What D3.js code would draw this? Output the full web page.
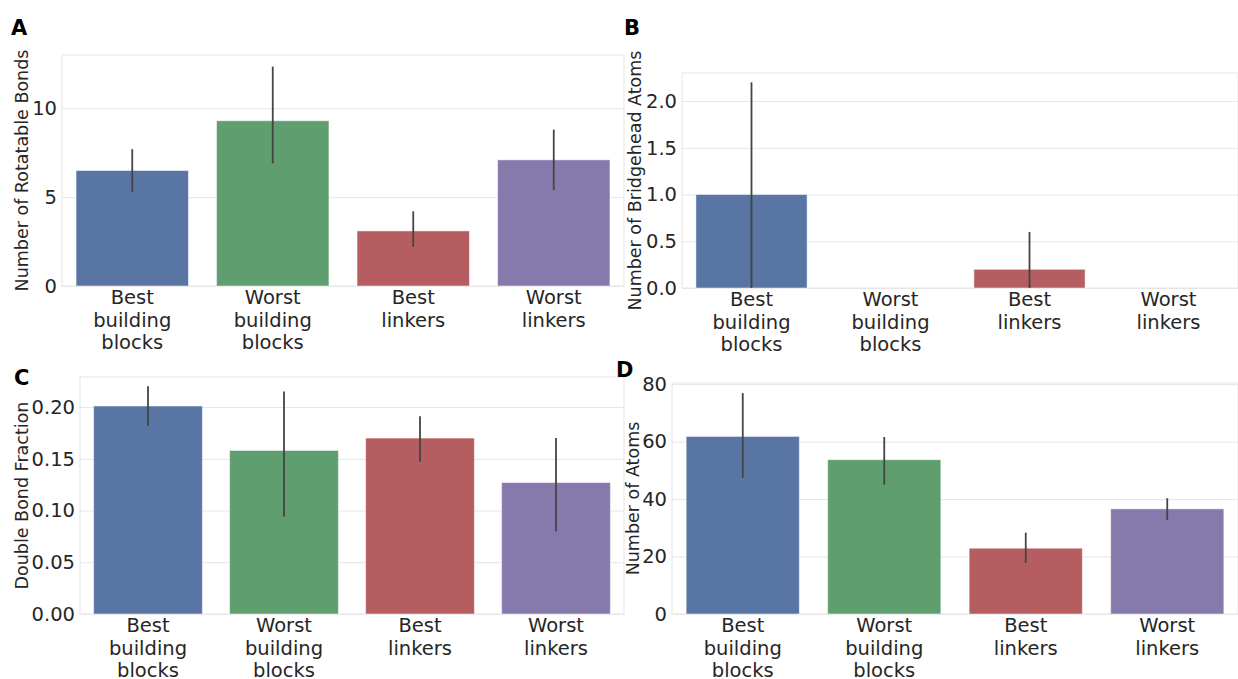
<!DOCTYPE html>
<html>
<head>
<meta charset="utf-8">
<script src="https://cdn.jsdelivr.net/npm/d3@7"></script>
<style>
  body { margin: 0; background: #fff; }
  svg { font-family: "DejaVu Sans", sans-serif; }
</style>
</head>
<body>
<svg id="chart" width="1238" height="679"></svg>
<script>
/* data */
const categories = ["Best building blocks", "Worst building blocks", "Best linkers", "Worst linkers"];
const categoryLines = [["Best", "building", "blocks"], ["Worst", "building", "blocks"], ["Best", "linkers"], ["Worst", "linkers"]];
const colors = ["#5975a4", "#5f9e6e", "#b55d60", "#857aab"];

const rotatableMean = [6.5, 9.3, 3.1, 7.1];
const rotatableLow = [5.3, 6.9, 2.2, 5.4];
const rotatableHigh = [7.7, 12.35, 4.2, 8.8];
const rotatableTicks = [0, 5, 10];

const bridgeheadMean = [1.0, 0, 0.2, 0];
const bridgeheadLow = [0, null, 0, null];
const bridgeheadHigh = [2.2, null, 0.6, null];
const bridgeheadTicks = [0, 0.5, 1.0, 1.5, 2.0];

const doubleMean = [0.201, 0.158, 0.170, 0.127];
const doubleLow = [0.182, 0.094, 0.147, 0.080];
const doubleHigh = [0.220, 0.215, 0.191, 0.170];
const doubleTicks = [0, 0.05, 0.10, 0.15, 0.20];

const atomsMean = [61.8, 53.7, 22.9, 36.6];
const atomsLow = [47.4, 45.0, 17.8, 32.7];
const atomsHigh = [76.9, 61.6, 28.3, 40.3];
const atomsTicks = [0, 20, 40, 60, 80];

const svg = d3.select('#chart');

function panel(opts) {
  const g = svg.append('g');
  const x = d3.scaleBand()
    .domain(categories)
    .range([opts.left, opts.right])
    .paddingInner(0.2)
    .paddingOuter(0.1);
  const y = d3.scaleLinear()
    .domain([0, opts.ymax])
    .range([opts.bottom, opts.top]);

  // frame + grid
  g.append('rect')
    .attr('x', opts.left).attr('y', opts.top)
    .attr('width', opts.right - opts.left)
    .attr('height', opts.bottom - opts.top)
    .attr('fill', 'none')
    .attr('stroke', '#e6e6e6')
    .attr('stroke-width', 1);

  const yAxis = d3.axisLeft(y)
    .tickValues(opts.ticks)
    .tickSize(-(opts.right - opts.left))
    .tickPadding(5)
    .tickFormat(opts.fmt);
  const ya = g.append('g')
    .attr('transform', `translate(${opts.left},0)`)
    .call(yAxis);
  ya.select('.domain').remove();
  ya.selectAll('.tick line').attr('stroke', '#e6e6e6');
  ya.selectAll('.tick text')
    .attr('fill', '#262626')
    .style('font-size', '19.5px')
    .style('font-family', '"DejaVu Sans", sans-serif');

  // bars
  g.append('g').selectAll('rect')
    .data(categories)
    .enter().append('rect')
    .attr('x', d => x(d))
    .attr('width', x.bandwidth())
    .attr('y', (d, i) => y(opts.mean[i]))
    .attr('height', (d, i) => y(0) - y(opts.mean[i]))
    .attr('fill', (d, i) => colors[i])
    .attr('stroke', '#ffffff')
    .attr('stroke-opacity', 0.5)
    .attr('stroke-width', 1);

  // error bars
  g.append('g').selectAll('line')
    .data(categories.filter((d, i) => opts.low[i] !== null))
    .enter().append('line')
    .attr('x1', d => x(d) + x.bandwidth() / 2)
    .attr('x2', d => x(d) + x.bandwidth() / 2)
    .attr('y1', d => y(opts.low[categories.indexOf(d)]))
    .attr('y2', d => y(opts.high[categories.indexOf(d)]))
    .attr('stroke', '#444444')
    .attr('stroke-width', 1.8);

  // x tick labels
  const xl = g.append('g').selectAll('text')
    .data(categories)
    .enter().append('text')
    .attr('x', d => x(d) + x.bandwidth() / 2)
    .attr('y', opts.bottom + 18)
    .attr('text-anchor', 'middle')
    .attr('fill', '#262626')
    .style('font-size', '19.5px');
  xl.each(function (d, i) {
    const t = d3.select(this);
    categoryLines[i].forEach((line, k) => {
      t.append('tspan')
        .attr('x', x(d) + x.bandwidth() / 2)
        .attr('y', opts.bottom + 18 + k * 22.5)
        .text(line);
    });
  });

  // y label
  g.append('text')
    .attr('transform', `translate(${opts.labelX},${(opts.top + opts.bottom) / 2}) rotate(-90)`)
    .attr('text-anchor', 'middle')
    .attr('fill', '#262626')
    .style('font-size', '17.5px')
    .text(opts.ylabel);

  // panel letter
  g.append('text')
    .attr('x', opts.letterX)
    .attr('y', opts.letterY)
    .attr('fill', '#000')
    .style('font-size', '21px')
    .style('font-weight', 'bold')
    .text(opts.letter);
}

panel({
  letter: 'A', letterX: 11, letterY: 35,
  left: 62, right: 624, top: 55, bottom: 286, ymax: 13,
  ticks: rotatableTicks, fmt: d3.format('d'),
  mean: rotatableMean, low: rotatableLow, high: rotatableHigh,
  ylabel: 'Number of Rotatable Bonds', labelX: 28
});

panel({
  letter: 'B', letterX: 624, letterY: 35,
  left: 682, right: 1238, top: 73, bottom: 288, ymax: 2.3,
  ticks: bridgeheadTicks, fmt: d3.format('.1f'),
  mean: bridgeheadMean, low: bridgeheadLow, high: bridgeheadHigh,
  ylabel: 'Number of Bridgehead Atoms', labelX: 641
});

panel({
  letter: 'C', letterX: 14, letterY: 385,
  left: 80, right: 624, top: 377, bottom: 614, ymax: 0.229,
  ticks: doubleTicks, fmt: d3.format('.2f'),
  mean: doubleMean, low: doubleLow, high: doubleHigh,
  ylabel: 'Double Bond Fraction', labelX: 28
});

panel({
  letter: 'D', letterX: 616, letterY: 377,
  left: 672, right: 1238, top: 383, bottom: 614, ymax: 80.4,
  ticks: atomsTicks, fmt: d3.format('d'),
  mean: atomsMean, low: atomsLow, high: atomsHigh,
  ylabel: 'Number of Atoms', labelX: 639
});
</script>
</body>
</html>
